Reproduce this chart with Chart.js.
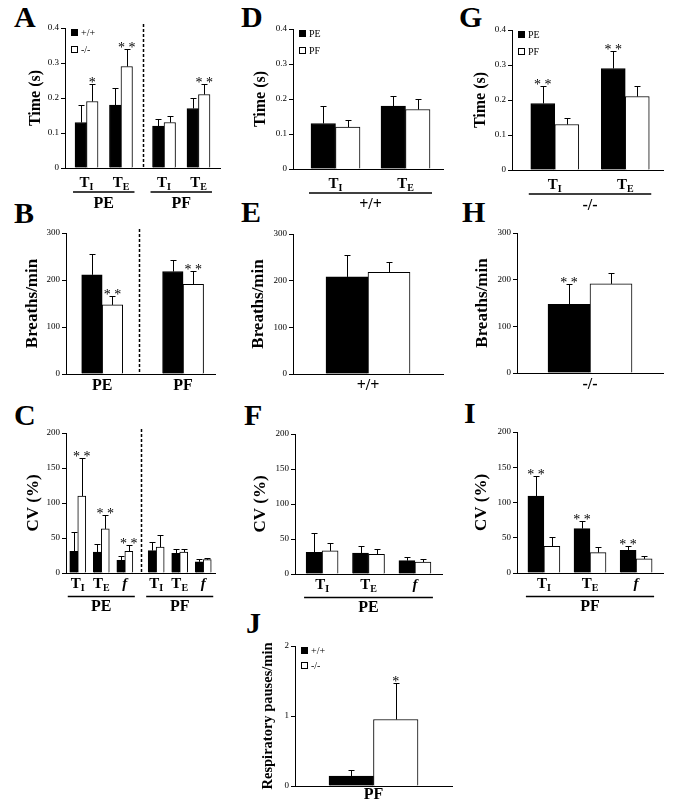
<!DOCTYPE html>
<html>
<head>
<meta charset="utf-8">
<script src="https://cdn.jsdelivr.net/npm/chart.js@4.4.0/dist/chart.umd.min.js"></script>
<style>
  body { margin: 0; background: #fff; width: 676px; height: 805px; position: relative; overflow: hidden; }
  canvas { position: absolute; }
  .letter { position: absolute; font: bold 30px "Liberation Serif", "Times New Roman", serif; line-height: 30px; color: #000; }
</style>
</head>
<body>
<div class="letter" style="left:14px;top:2px">A</div>
<div class="letter" style="left:14px;top:198px">B</div>
<div class="letter" style="left:14px;top:400px">C</div>
<div class="letter" style="left:241px;top:2px">D</div>
<div class="letter" style="left:241px;top:197px">E</div>
<div class="letter" style="left:244px;top:400px">F</div>
<div class="letter" style="left:459px;top:2px">G</div>
<div class="letter" style="left:462px;top:197px">H</div>
<div class="letter" style="left:464px;top:398px">I</div>
<div class="letter" style="left:246px;top:608px">J</div>
<script>
// ---- data ----
// A: time (s), +/+ vs -/-, order: PE T_I, PE T_E, PF T_I, PF T_E
var timeCats = ['T_I', 'T_E', 'T_I', 'T_E'];
var timeWT = [0.13, 0.18, 0.12, 0.17];
var timeWTsem = [0.05, 0.05, 0.02, 0.03];
var timeKO = [0.19, 0.29, 0.13, 0.21];
var timeKOsem = [0.05, 0.05, 0.02, 0.03];
var timeKOsig = ['*', '**', '', '**'];

// D: +/+ mice, PE vs PF
var pairCats = ['T_I', 'T_E'];
var dPE = [0.13, 0.18];
var dPEsem = [0.05, 0.03];
var dPF = [0.12, 0.17];
var dPFsem = [0.02, 0.03];

// G: -/- mice, PE vs PF
var gPE = [0.19, 0.29];
var gPEsem = [0.05, 0.05];
var gPEsig = ['**', '**'];
var gPF = [0.13, 0.21];
var gPFsem = [0.02, 0.03];

// B: breaths/min
var rateCats = ['PE', 'PF'];
var rateWT = [211, 218];
var rateWTsem = [45, 25];
var rateKO = [147, 191];
var rateKOsem = [18, 29];
var rateKOsig = ['**', '**'];

// E / H: breaths/min, PE vs PF
var eCats = ['+/+'];
var ePE = [208], ePEsem = [47];
var ePF = [218], ePFsem = [22];
var hCats = ['-/-'];
var hPE = [147], hPEsem = [43], hPEsig = ['**'];
var hPF = [191], hPFsem = [24];

// C: CV (%), order: PE T_I, T_E, f, PF T_I, T_E, f
var cvCats = ['T_I', 'T_E', 'f', 'T_I', 'T_E', 'f'];
var cvWT = [31, 30, 18, 32, 28, 16];
var cvWTsem = [28, 11, 6, 13, 7, 4];
var cvKO = [110, 63, 31, 37, 30, 19];
var cvKOsem = [54, 20, 9, 17, 5, 3];
var cvKOsig = ['**', '**', '**', '', '', ''];

// F / I: CV (%), PE vs PF
var triCats = ['T_I', 'T_E', 'f'];
var fPE = [31, 30, 19], fPEsem = [28, 10, 5];
var fPF = [33, 28, 17], fPFsem = [12, 8, 4];
var iPE = [109, 63, 32], iPEsem = [28, 11, 6], iPEsig = ['**', '**', '**'];
var iPF = [38, 29, 20], iPFsem = [13, 8, 4];

// J: respiratory pauses/min
var pauseCats = ['PF'];
var pauseWT = [0.14], pauseWTsem = [0.09];
var pauseKO = [0.95], pauseKOsem = [0.52], pauseKOsig = ['*'];

// ---- layout ----
var serif = '"Liberation Serif", "Times New Roman", serif';
var row1 = {lab: 19, line: 24, grp: 40};
var row2 = {lab: 16};
var row3 = {lab: 15, line: 23.5, grp: 38};
var rowJ = {lab: 13};

function s(name, values, sem, sig) { return {name: name, values: values, sem: sem, sig: sig || []}; }

var panels = [
  {area: [65, 28, 220, 168], yMax: 0.4, step: 0.1, yTitle: 'Time (s)', titleX: 36, titleSize: 16,
   cats: timeCats, slots: 18, at: [2, 6, 11, 15], sep: 8.5, bar: 11.5, row: row1, legend: 17,
   groups: [['PE', 0, 1], ['PF', 2, 3]],
   series: [s('+/+', timeWT, timeWTsem), s('-/-', timeKO, timeKOsem, timeKOsig)]},
  {area: [293, 29, 443, 169], yMax: 0.4, step: 0.1, yTitle: 'Time (s)', titleX: 261, titleSize: 16,
   cats: pairCats, slots: 30, at: [8, 22], bar: 24.5, row: row1, legend: 17,
   groups: [['+/+', 0, 1]],
   series: [s('PE', dPE, dPEsem), s('PF', dPF, dPFsem)]},
  {area: [512, 30, 663, 170], yMax: 0.4, step: 0.1, yTitle: 'Time (s)', titleX: 481, titleSize: 16,
   cats: pairCats, slots: 30, at: [8, 22], bar: 24, row: row1, legend: 17,
   groups: [['-/-', 0, 1]],
   series: [s('PE', gPE, gPEsem, gPEsig), s('PF', gPF, gPFsem)]},
  {area: [66, 233, 215, 374], yMax: 300, step: 100, yTitle: 'Breaths/min', titleX: 33, titleSize: 17,
   cats: rateCats, slots: 35, at: [8, 27], sep: 16.7, bar: 20.5, row: row2,
   series: [s('+/+', rateWT, rateWTsem), s('-/-', rateKO, rateKOsem, rateKOsig)]},
  {area: [293, 234, 443, 374], yMax: 300, step: 100, yTitle: 'Breaths/min', titleX: 259, titleSize: 17,
   cats: eCats, slots: 1, at: [0], bar: 42, row: row2,
   series: [s('PE', ePE, ePEsem), s('PF', ePF, ePFsem)]},
  {area: [517, 233, 663, 373], yMax: 300, step: 100, yTitle: 'Breaths/min', titleX: 483, titleSize: 17,
   cats: hCats, slots: 1, at: [0], bar: 42, row: row2,
   series: [s('PE', hPE, hPEsem, hPEsig), s('PF', hPF, hPFsem)]},
  {area: [66, 433, 215, 573], yMax: 200, step: 50, yTitle: 'CV (%)', titleX: 34, titleSize: 17,
   cats: cvCats, slots: 19, at: [1, 4, 7, 11, 14, 17], sep: 9, bar: 8, row: row3,
   groups: [['PE', 0, 2], ['PF', 3, 5]],
   series: [s('+/+', cvWT, cvWTsem), s('-/-', cvKO, cvKOsem, cvKOsig)]},
  {area: [295, 434, 442, 574], yMax: 200, step: 50, yTitle: 'CV (%)', titleX: 261, titleSize: 17,
   cats: triCats, slots: 19, at: [3, 9, 15], bar: 16, row: row3,
   groups: [['PE', 0, 2]],
   series: [s('PE', fPE, fPEsem), s('PF', fPF, fPFsem)]},
  {area: [517, 432, 663, 573], yMax: 200, step: 50, yTitle: 'CV (%)', titleX: 482, titleSize: 17,
   cats: triCats, slots: 19, at: [3, 9, 15], bar: 16, row: row3,
   groups: [['PF', 0, 2]],
   series: [s('PE', iPE, iPEsem, iPEsig), s('PF', iPF, iPFsem)]},
  {area: [295, 646, 452, 786], yMax: 2, step: 1, yTitle: 'Respiratory pauses/min', titleX: 268, titleSize: 14.5,
   cats: pauseCats, slots: 1, at: [0], bar: 44.5, row: rowJ, legend: 15,
   series: [s('+/+', pauseWT, pauseWTsem), s('-/-', pauseKO, pauseKOsem, pauseKOsig)]}
];

// draws "T_I" as T with subscript I, "f" in italics
function drawCat(ctx, text, cx, by, size) {
  var parts = text.split('_');
  var mainFont = (text == 'f' ? 'italic bold ' : 'bold ') + size + 'px ' + serif;
  var subFont = 'bold ' + Math.round(size * 0.68) + 'px ' + serif;
  ctx.font = mainFont;
  var w1 = ctx.measureText(parts[0]).width;
  ctx.font = subFont;
  var w2 = parts[1] ? ctx.measureText(parts[1]).width : 0;
  var x0 = cx - (w1 + w2) / 2;
  ctx.textAlign = 'left';
  ctx.textBaseline = 'alphabetic';
  ctx.font = mainFont;
  ctx.fillText(parts[0], x0, by);
  if (parts[1]) {
    ctx.font = subFont;
    ctx.fillText(parts[1], x0 + w1, by + 3);
  }
}

function decor(p) {
  return {
    id: 'decor',
    afterDraw: function(chart) {
      var ctx = chart.ctx, area = chart.chartArea;
      var x = chart.scales.x, y = chart.scales.y;
      ctx.save();
      ctx.fillStyle = '#000';
      ctx.strokeStyle = '#000';

      // error bars (upper only) and significance stars
      chart.data.datasets.forEach(function(ds, k) {
        chart.getDatasetMeta(k).data.forEach(function(bar, i) {
          if (ds.data[i] == null) return;
          var cx = Math.round(bar.x) + 0.5;
          var top = Math.round(y.getPixelForValue(ds.data[i] + ds.sem[i])) + 0.5;
          ctx.lineWidth = 1;
          ctx.beginPath();
          ctx.moveTo(cx, bar.y);
          ctx.lineTo(cx, top);
          ctx.moveTo(cx - 3, top);
          ctx.lineTo(cx + 3, top);
          ctx.stroke();
          if (ds.sig[i]) {
            ctx.font = '14px ' + serif;
            ctx.textAlign = 'center';
            ctx.textBaseline = 'alphabetic';
            ctx.fillText(ds.sig[i].split('').join(' '), bar.x, top + 2);
          }
        });
      });

      // category labels
      chart.data.labels.forEach(function(lab, i) {
        if (!lab) return;
        var size = p.groups ? 15 : 16;
        drawCat(ctx, lab, x.getPixelForValue(i), area.bottom + p.row.lab, size);
      });

      // group underlines
      (p.groups || []).forEach(function(g) {
        var x1 = x.getPixelForValue(p.at[g[1]]) - p.bar - 2;
        var x2 = x.getPixelForValue(p.at[g[2]]) + p.bar + 2;
        var ly = area.bottom + p.row.line;
        ctx.lineWidth = 1.5;
        ctx.beginPath();
        ctx.moveTo(x1, ly);
        ctx.lineTo(x2, ly);
        ctx.stroke();
        ctx.font = 'bold 16px ' + serif;
        ctx.textAlign = 'center';
        ctx.textBaseline = 'alphabetic';
        ctx.fillText(g[0], (x1 + x2) / 2, area.bottom + p.row.grp);
      });

      // dashed separator between PE and PF
      if (p.sep != null) {
        var sx = Math.round(x.getPixelForValue(p.sep)) + 0.5;
        ctx.lineWidth = 1.5;
        ctx.setLineDash([3, 2]);
        ctx.beginPath();
        ctx.moveTo(sx, area.top - 4);
        ctx.lineTo(sx, area.bottom);
        ctx.stroke();
        ctx.setLineDash([]);
      }

      // legend
      if (p.legend) {
        chart.data.datasets.forEach(function(ds, k) {
          var lx = area.left + 6, ly = area.top + 1 + k * p.legend;
          ctx.fillStyle = ds.backgroundColor;
          ctx.fillRect(lx, ly, 7, 7);
          ctx.lineWidth = 1;
          ctx.strokeRect(lx + 0.5, ly + 0.5, 6, 6);
          ctx.fillStyle = '#000';
          ctx.font = '10px ' + serif;
          ctx.textAlign = 'left';
          ctx.textBaseline = 'middle';
          ctx.fillText(ds.label, lx + 10, ly + 4);
        });
      }
      ctx.restore();
    }
  };
}

function makePanel(p) {
  var axisW = 52, padT = 12, padR = 8, padB = 50;
  var left = p.area[0] - axisW, top = p.area[1] - padT;
  var cv = document.createElement('canvas');
  cv.width = p.area[2] - p.area[0] + axisW + padR;
  cv.height = p.area[3] - p.area[1] + padT + padB;
  cv.style.left = left + 'px';
  cv.style.top = top + 'px';
  document.body.appendChild(cv);

  // spread categories over slots so the groups sit where they should
  var labels = [];
  for (var i = 0; i < p.slots; i++) labels.push('');
  p.at.forEach(function(slot, j) { labels[slot] = p.cats[j]; });
  function spread(arr) {
    var out = [];
    for (var i = 0; i < p.slots; i++) out.push(null);
    p.at.forEach(function(slot, j) { out[slot] = arr[j] === undefined ? null : arr[j]; });
    return out;
  }

  var lh = p.titleSize * 1.2;
  new Chart(cv, {
    type: 'bar',
    data: {
      labels: labels,
      datasets: p.series.map(function(se, k) {
        return {
          label: se.name,
          data: spread(se.values),
          sem: spread(se.sem),
          sig: spread(se.sig),
          backgroundColor: k == 0 ? '#000' : '#fff',
          borderColor: '#000',
          borderWidth: 1,
          barThickness: p.bar
        };
      })
    },
    options: {
      responsive: false,
      animation: false,
      devicePixelRatio: 1,
      layout: {padding: {top: padT, right: padR, left: 0, bottom: 0}},
      plugins: {legend: {display: false}, tooltip: {enabled: false}},
      scales: {
        x: {
          grid: {display: false},
          border: {display: true, color: '#000', width: 1},
          ticks: {display: false},
          afterFit: function(sc) { sc.height = padB; }
        },
        y: {
          min: 0,
          max: p.yMax,
          ticks: {stepSize: p.step, color: '#000', font: {family: serif, size: 9}, padding: 2},
          grid: {drawOnChartArea: false, drawTicks: true, tickLength: 4, color: '#000'},
          border: {display: true, color: '#000', width: 1},
          title: {
            display: true,
            text: p.yTitle,
            color: '#000',
            font: {family: serif, size: p.titleSize, weight: 'bold'},
            padding: {top: p.titleX - left - lh / 2, bottom: 0}
          },
          afterFit: function(sc) { sc.width = axisW; }
        }
      }
    },
    plugins: [decor(p)]
  });
}

panels.forEach(makePanel);
</script>
</body>
</html>
